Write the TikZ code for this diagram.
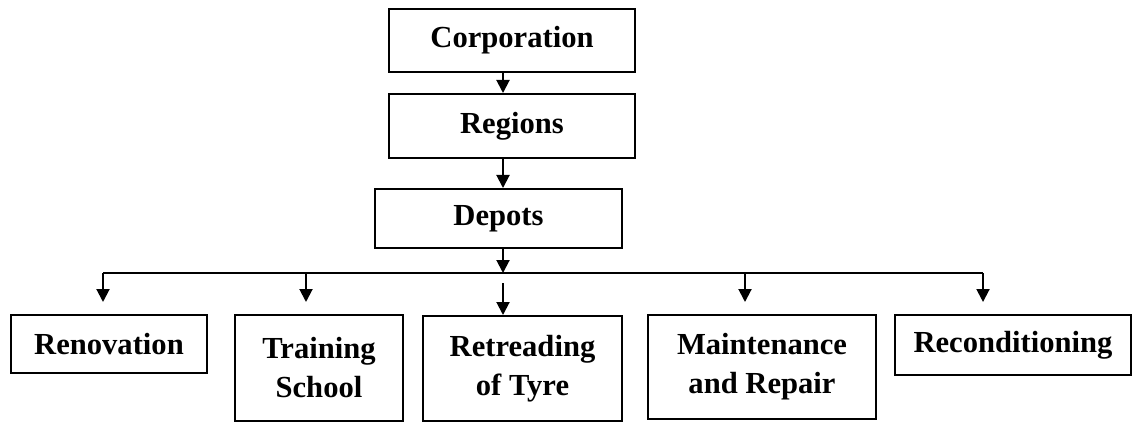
\documentclass[tikz,border=0pt]{standalone}
\usepackage{fontspec}
\setmainfont{Liberation Serif}
\usetikzlibrary{arrows.meta,positioning}

\begin{document}
\begin{tikzpicture}[x=0.5pt,y=-0.5pt]
\tikzset{
  unit/.style={
    draw,
    line width=1pt,
    font=\fontsize{15.3}{19.5}\selectfont\bfseries,
    align=center,
    inner sep=0pt,
  },
  flow/.style={line width=1pt,-{Triangle[length=6.5pt,width=6.5pt]}}
}
\useasboundingbox (0,0) rectangle (1133,422);
\node[unit,minimum width=123pt,minimum height=31.5pt] (corp) at (512,40.5) {Corporation};
\node[unit,minimum width=123pt,minimum height=32pt] (regions) at (512,126) {Regions};
\node[unit,minimum width=123.5pt,minimum height=29.5pt] (depots) at (498.5,218.5) {Depots};
\node[unit,minimum width=98pt,minimum height=29pt] (reno) at (109,344) {Renovation};
\node[unit,minimum width=84pt,minimum height=53pt] (train) at (319,368) {Training\\School};
\node[unit,minimum width=99.5pt,minimum height=52.5pt] (retread) at (522.5,368.5) {Retreading\\of Tyre};
\node[unit,minimum width=114pt,minimum height=52pt] (maint) at (762,367) {Maintenance\\and Repair};
\node[unit,minimum width=118pt,minimum height=30pt] (recon) at (1013,345) {Reconditioning};
\coordinate (spine) at (503,0);
\coordinate (bus) at (503,273);
\coordinate (gap) at (503,283);
\coordinate (dropA) at (103,273);
\coordinate (dropB) at (306,273);
\coordinate (dropC) at (745,273);
\coordinate (dropD) at (983,273);
\draw[flow] (corp.south -| spine) -- (regions.north -| spine);
\draw[flow] (regions.south -| spine) -- (depots.north -| spine);
\draw[flow] (depots.south -| spine) -- (bus);
\draw[line width=1pt] (dropA) -- (dropD);
\foreach \d/\n in {dropA/reno,dropB/train,dropC/maint,dropD/recon}
  \draw[flow,shorten >=6pt] (\d) -- (\d |- \n.north);
\draw[flow] (gap) -- (retread.north -| spine);
\end{tikzpicture}
\end{document}
